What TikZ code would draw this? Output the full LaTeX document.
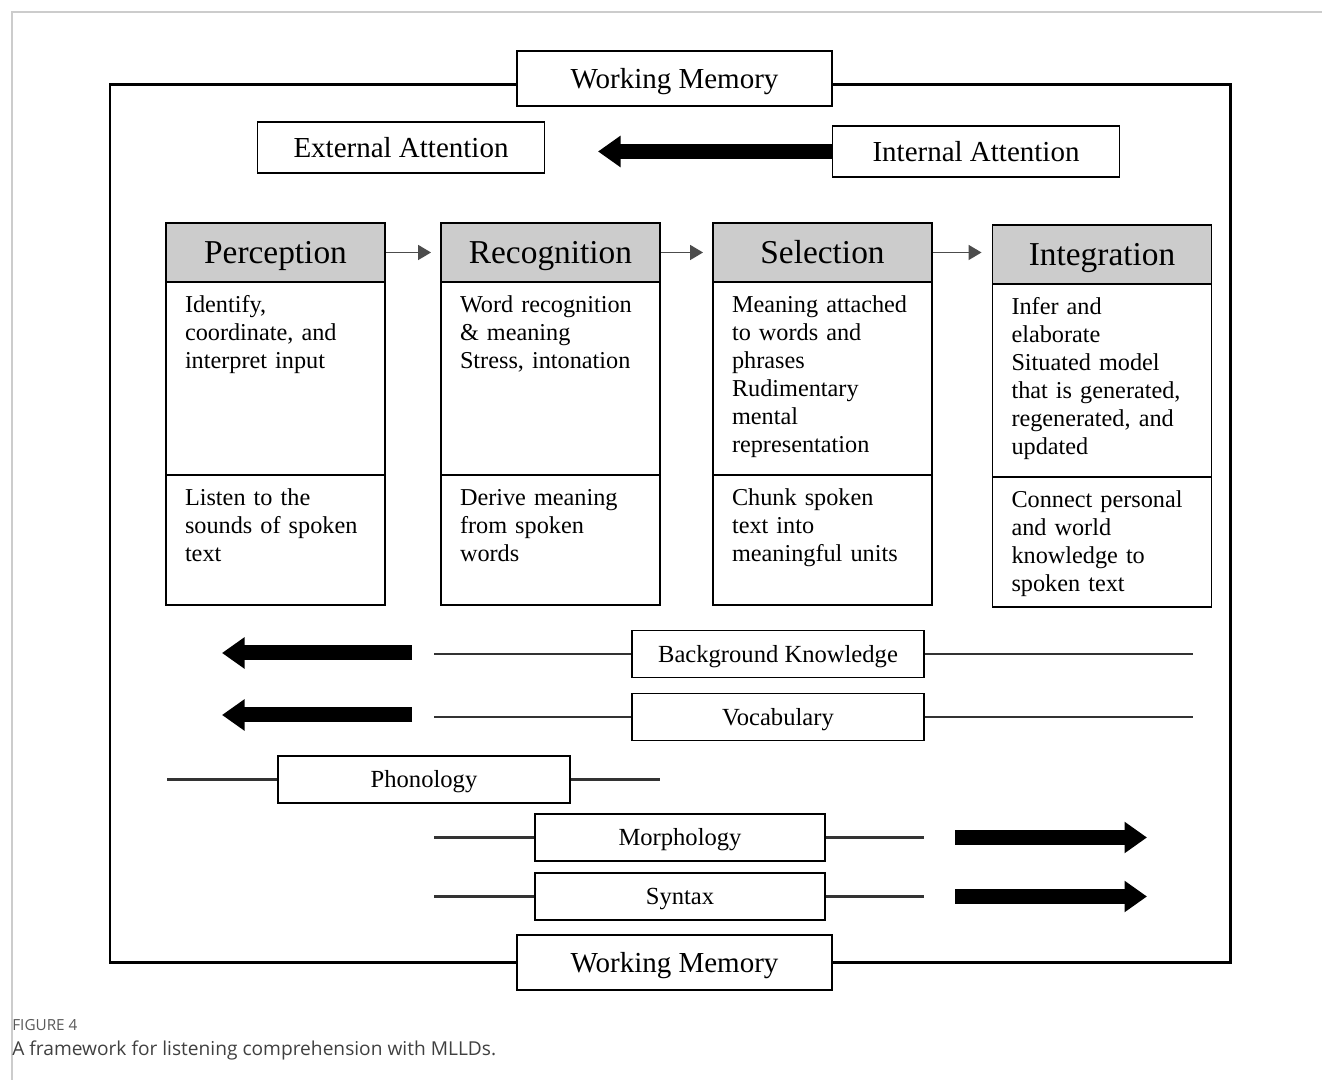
\documentclass[tikz,border=0pt]{standalone}
\usepackage{fontspec}
\setmainfont{Liberation Serif}
\newfontfamily\captionsans{Open Sans}
\usetikzlibrary{arrows.meta}

\begin{document}
\begin{tikzpicture}[
  memorybox/.style={
    draw,
    rectangle,
    line width=1.1pt,
    fill=white,
    minimum width=6.3cm,
    minimum height=1.1cm,
    text height=10.9pt,
    text depth=0pt,
    font=\fontsize{16.5}{19}\selectfont
  },
  attbox/.style={
    draw,
    rectangle,
    line width=1.1pt,
    minimum width=5.74cm,
    minimum height=1.02cm,
    text height=10.9pt,
    text depth=0pt,
    font=\fontsize{16.5}{19}\selectfont
  },
  headbox/.style={
    draw,
    rectangle,
    line width=1.1pt,
    fill=black!20,
    minimum width=4.38cm,
    minimum height=1.18cm,
    text height=12.6pt,
    text depth=0pt,
    font=\fontsize{19}{22}\selectfont
  },
  cellbox/.style={
    draw,
    rectangle,
    line width=1.1pt,
    text width=3.62cm,
    align=left,
    inner xsep=0.38cm,
    inner ysep=0.2cm,
    text height=0.42cm,
    font=\fontsize{13.8}{15.9}\selectfont
  },
  upperbox/.style={cellbox, text depth=3.04cm},
  lowerbox/.style={cellbox, text depth=1.78cm},
  labelbox/.style={
    draw,
    rectangle,
    line width=1.1pt,
    minimum width=5.84cm,
    minimum height=0.94cm,
    text height=9.3pt,
    text depth=0pt,
    font=\fontsize{14}{16}\selectfont
  },
  linkline/.style={line width=1.2pt, black!80},
  flowarrow/.style={-{Triangle[length=0.26cm,width=0.3cm]}, line width=1pt, black!70},
  fatarrow/.style={-{Triangle[length=0.45cm,width=0.6cm]}, line width=0.3cm}
]
\useasboundingbox (0,0) rectangle (26.44,21.6);

% Page border and caption.
\draw[black!20, line width=0.6pt] (26.44,21.36) -- (0.24,21.36) -- (0.24,0);
\node[anchor=base west, inner sep=0, font=\captionsans\fontsize{8.7}{10}\selectfont, text=black!65] (fignum) at (0.24,0.98) {FIGURE 4};
\node[anchor=base west, inner sep=0, font=\captionsans\fontsize{10.9}{12}\selectfont, text=black!75] (figcap) at (0.24,0.48) {A framework for listening comprehension with MLLDs.};

% Working memory frame.
\draw[line width=1.7pt] (2.2,19.9) rectangle (24.6,2.34);
\node[memorybox] (wmtop) at (13.49,20.03) {Working Memory};
\node[memorybox] (wmbot) at (13.49,2.35) {Working Memory};

% Attention.
\node[attbox] (extatt) at (8.02,18.65) {External Attention};
\node[attbox] (intatt) at (19.52,18.57) {Internal Attention};
\coordinate (atttip) at (11.96,18.57);
\draw[fatarrow] (intatt.west) -- (atttip);

% Listening stages.
\node[headbox] (perc) at (5.51,16.55) {Perception};
\node[upperbox] (perc-up) at (5.51,14.03) {Identify,\\coordinate, and\\interpret input};
\node[lowerbox] (perc-low) at (5.51,10.8) {Listen to the\\sounds of spoken\\text};

\node[headbox] (recog) at (11.01,16.55) {Recognition};
\node[upperbox] (recog-up) at (11.01,14.03) {Word recognition\\\& meaning\\Stress, intonation};
\node[lowerbox] (recog-low) at (11.01,10.8) {Derive meaning\\from spoken\\words};

\node[headbox] (select) at (16.45,16.55) {Selection};
\node[upperbox] (select-up) at (16.45,14.03) {Meaning attached\\to words and\\phrases\\Rudimentary\\mental\\representation};
\node[lowerbox] (select-low) at (16.45,10.8) {Chunk spoken\\text into\\meaningful units};

\node[headbox] (integ) at (22.04,16.51) {Integration};
\node[upperbox] (integ-up) at (22.04,13.99) {Infer and\\elaborate\\Situated model\\that is generated,\\regenerated, and\\updated};
\node[lowerbox] (integ-low) at (22.04,10.76) {Connect personal\\and world\\knowledge to\\spoken text};

\draw[flowarrow] (perc) -- ([xshift=-0.18cm]recog.west);
\draw[flowarrow] (recog) -- ([xshift=-0.18cm]select.west);
\draw[flowarrow] (select.east) -- ([xshift=-0.2cm]integ.west |- select.east);

% Knowledge sources.
\node[labelbox] (bgk) at (15.56,8.52) {Background Knowledge};
\node[labelbox] (vocab) at (15.56,7.26) {Vocabulary};
\node[labelbox] (phon) at (8.48,6.01) {Phonology};
\node[labelbox, minimum width=5.8cm] (morph) at (13.6,4.85) {Morphology};
\node[labelbox, minimum width=5.8cm] (syn) at (13.6,3.67) {Syntax};

\coordinate (bgk-l) at (8.68,8.52);
\coordinate (bgk-r) at (23.86,8.52);
\coordinate (bgk-a) at (8.24,8.54);
\coordinate (bgk-b) at (4.44,8.54);
\coordinate (vocab-l) at (8.68,7.26);
\coordinate (vocab-r) at (23.86,7.26);
\coordinate (vocab-a) at (8.24,7.3);
\coordinate (vocab-b) at (4.44,7.3);
\coordinate (phon-l) at (3.34,6.01);
\coordinate (phon-r) at (13.2,6.01);
\coordinate (morph-l) at (8.68,4.85);
\coordinate (morph-r) at (18.48,4.85);
\coordinate (morph-a) at (19.1,4.85);
\coordinate (morph-b) at (22.94,4.85);
\coordinate (syn-l) at (8.68,3.67);
\coordinate (syn-r) at (18.48,3.67);
\coordinate (syn-a) at (19.1,3.67);
\coordinate (syn-b) at (22.94,3.67);

\draw[linkline] (bgk-l) -- (bgk);
\draw[linkline] (bgk) -- (bgk-r);
\draw[fatarrow] (bgk-a) -- (bgk-b);
\draw[linkline] (vocab-l) -- (vocab);
\draw[linkline] (vocab) -- (vocab-r);
\draw[fatarrow] (vocab-a) -- (vocab-b);
\draw[linkline] (phon-l) -- (phon);
\draw[linkline] (phon) -- (phon-r);
\draw[linkline] (morph-l) -- (morph);
\draw[linkline] (morph) -- (morph-r);
\draw[fatarrow] (morph-a) -- (morph-b);
\draw[linkline] (syn-l) -- (syn);
\draw[linkline] (syn) -- (syn-r);
\draw[fatarrow] (syn-a) -- (syn-b);

\end{tikzpicture}
\end{document}
